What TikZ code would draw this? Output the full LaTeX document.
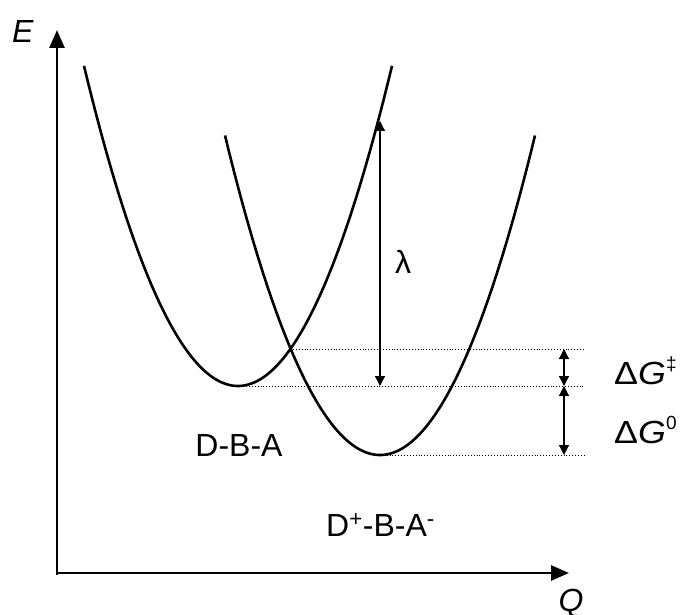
\documentclass[tikz,border=0pt]{standalone}
\usepackage{fontspec}
\setmainfont{Liberation Sans}
\usetikzlibrary{arrows.meta}
\newcommand{\mysup}[1]{\raisebox{0.42em}{\fontsize{19}{20}\selectfont #1}}
\begin{document}
\begin{tikzpicture}[x=1pt,y=-1pt,
  axis/.style={line width=2.8pt,-{Triangle[length=18pt,width=15pt]}},
  curve/.style={line width=2.6pt,smooth},
  dimarrow/.style={line width=1.2pt,{Triangle[length=10pt,width=10pt]}-{Triangle[length=10pt,width=10pt]}},
  level/.style={line width=0.9pt,dotted},
  lbl/.style={inner sep=0pt,font=\fontsize{32}{36}\selectfont},
  dlbl/.style={inner sep=0pt,font=\fontsize{32}{36}\selectfont,anchor=base west}]
\useasboundingbox (0,0) rectangle (681,615);
% axes
\coordinate (O) at (57,573);
\coordinate (Etop) at (57,30);
\coordinate (Qend) at (569,573);
\draw[axis] (57,575) -- (Etop);
\draw[axis] (56,573) -- (Qend);
\node[lbl] (E) at (23,31) {\textit{E}};
\node[lbl] (Q) at (571,603) {\textit{Q}};
% parabolas
\draw[curve,domain=-15.4:15.4,samples=120] plot ({238+10*\x},{386-1.35*\x*\x});
\draw[curve,domain=-15.5:15.5,samples=120] plot ({380+10*\x},{455-1.33*\x*\x});
% level points
\coordinate (cross) at (290,349);
\coordinate (vL) at (246,386);
\coordinate (vR) at (375,455);
\coordinate (eT) at (584,349);
\coordinate (eM) at (584,386);
\coordinate (eB) at (584,455);
\draw[level] (cross) -- (eT);
\draw[level] (vL) -- (eM);
\draw[level] (vR) -- (eB);
% lambda
\coordinate (lamTop) at (380,121);
\coordinate (lamBot) at (380,386);
\draw[dimarrow] (lamTop) -- (lamBot);
\node[lbl] (lam) at (403,262) {λ};
% delta G arrows
\coordinate (gT) at (564,349);
\coordinate (gM) at (564,386);
\coordinate (gB) at (564,455);
\draw[dimarrow] (gT) -- (gM);
\draw[dimarrow] (gM) -- (gB);
\node[dlbl] (dGa) at (614,384) {\scalebox{1.12}[1]{Δ\textit{G}}\mysup{‡}};
\node[dlbl] (dGb) at (614,443) {\scalebox{1.12}[1]{Δ\textit{G}}\mysup{0}};
% state labels
\node[lbl] (DBA) at (239,445) {D-B-A};
\node[lbl,anchor=west] (DBAp) at (326,525) {D\textsuperscript{+}-B-A\textsuperscript{-}};
\end{tikzpicture}
\end{document}
